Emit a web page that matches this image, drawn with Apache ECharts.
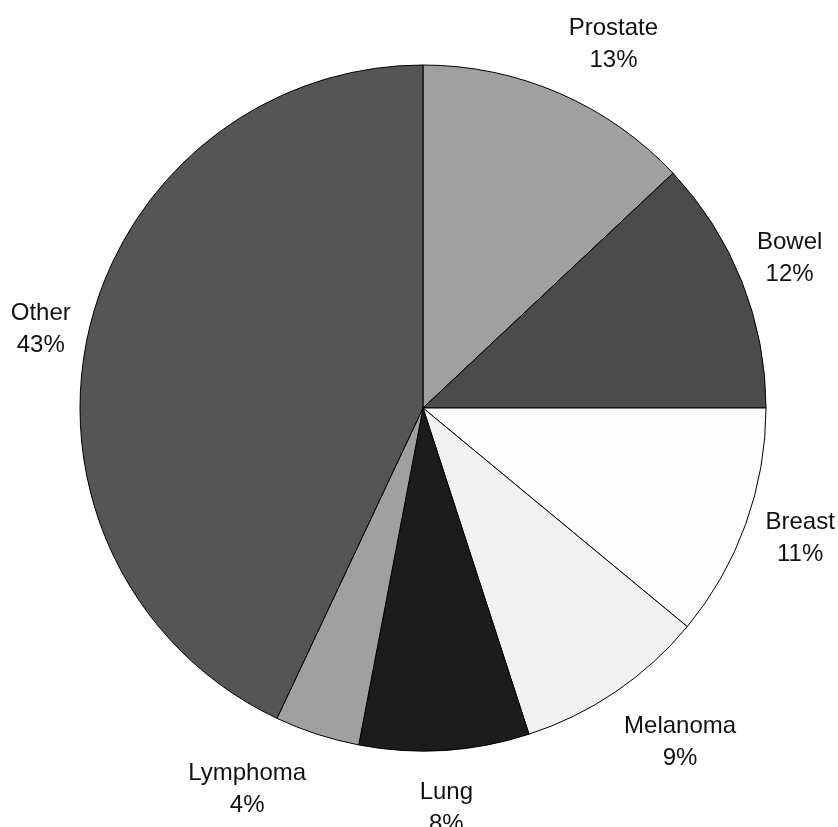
<!DOCTYPE html>
<html>
<head>
    <meta charset="UTF-8">
    <title>Pie</title>
    <script src="https://cdn.jsdelivr.net/npm/echarts@6/dist/echarts.min.js"></script>
    <style>
        html, body {
            margin: 0;
            padding: 0;
            background: #fff;
        }

        #chart {
            width: 838px;
            height: 827px;
        }
    </style>
</head>
<body>
<div id="chart"></div>
<script>
    // slices, clockwise from 12 o'clock
    var categories = ['Prostate', 'Bowel', 'Breast', 'Melanoma', 'Lung', 'Lymphoma', 'Other'];
    var percents = [13, 12, 11, 9, 8, 4, 43];
    var sliceColors = ['#a0a0a0', '#4b4b4b', '#fdfdfd', '#f1f1f1', '#1c1c1c', '#a0a0a0', '#555555'];

    // small hand nudges so labels sit where the original put them
    var labelNudge = [[30, 7], [-9, -1], [-3, -6], [30, 0], [-2, -3], [-51, -3], [12, 10]];

    var data = [];
    for (var i = 0; i < categories.length; i++) {
        data.push({name: categories[i], value: percents[i], itemStyle: {color: sliceColors[i]}});
    }

    var labelData = categories.map(function (c, i) {
        return {name: c, value: percents[i], label: {offset: labelNudge[i]}};
    });

    var chart = echarts.init(document.getElementById('chart'));
    chart.setOption({
        animation: false
        , series: [
            {
                type: 'pie'
                , center: [423, 408]
                , radius: [0, 343]
                , startAngle: 90
                , clockwise: true
                , silent: true
                , itemStyle: {borderColor: '#000', borderWidth: 1}
                , label: {show: false}
                , labelLine: {show: false}
                , data: data
            }
            , {
                // transparent ring, only carries the labels
                type: 'pie'
                , center: [423, 408]
                , radius: [343, 459]
                , startAngle: 90
                , clockwise: true
                , silent: true
                , itemStyle: {color: 'rgba(0,0,0,0)'}
                , label: {
                    show: true
                    , position: 'inside'
                    , formatter: '{b}\n{c}%'
                    , color: '#111'
                    , fontFamily: 'Liberation Sans, Arial, sans-serif'
                    , fontSize: 24
                    , lineHeight: 32
                    , align: 'center'
                }
                , labelLine: {show: false}
                , data: labelData
            }
        ]
    });
</script>
</body>
</html>
